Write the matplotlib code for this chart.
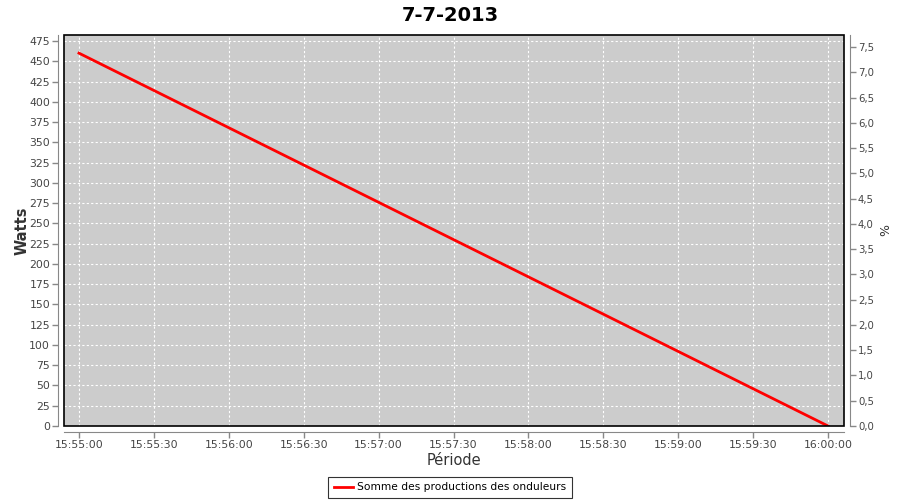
import matplotlib
matplotlib.use("Agg")
import matplotlib.pyplot as plt
import matplotlib.dates as mdates
from matplotlib.patches import Rectangle
from matplotlib.lines import Line2D
from datetime import datetime, timedelta
import numpy as np

# data
times = ["15:55:00", "16:00:00"]
watts = [460, 0]
series_name = "Somme des productions des onduleurs"
title = "7-7-2013"

x = [datetime.strptime("2013-07-07 " + t, "%Y-%m-%d %H:%M:%S") for t in times]

plt.rcParams["font.family"] = ["DejaVu Sans"]
fig = plt.figure(figsize=(9, 5), dpi=100)
ax = fig.add_axes([64 / 900, 74 / 500, 780 / 900, 391 / 500])
ax.set_facecolor("#cccccc")

ax.plot(x, watts, color="red", linewidth=2, zorder=3)

x0 = x[0] - timedelta(seconds=6)
x1 = x[-1] + timedelta(seconds=6.4)
ax.set_xlim(x0, x1)
ax.set_ylim(0, 482.4)
ax.set_yticks(np.arange(0, 476, 25))
ax.xaxis.set_major_locator(mdates.SecondLocator(bysecond=[0, 30]))
ax.xaxis.set_major_formatter(mdates.DateFormatter("%H:%M:%S"))

ax.grid(True, color="white", linestyle=(0, (2, 2)), linewidth=0.8)
ax.set_axisbelow(True)

tick_col = "#444444"
ax.tick_params(axis="both", colors="#888888", labelcolor=tick_col, labelsize=7.8,
               length=4, width=1, direction="out", pad=2)
for s in ["left", "bottom"]:
    ax.spines[s].set_position(("outward", 4))
    ax.spines[s].set_color("#888888")
ax.spines["top"].set_visible(False)
ax.spines["right"].set_visible(False)

ax2 = ax.twinx()
ax2.set_ylim(0, 7.74)
ax2.set_yticks(np.arange(0, 7.51, 0.5))
ax2.set_yticklabels([f"{v:.1f}".replace(".", ",") for v in np.arange(0, 7.51, 0.5)])
ax2.tick_params(axis="y", colors="#888888", labelcolor=tick_col, labelsize=7.3,
                length=4, width=1, direction="out", pad=2)
ax2.spines["right"].set_position(("outward", 4))
ax2.spines["right"].set_color("#888888")
for s in ["left", "bottom", "top"]:
    ax2.spines[s].set_visible(False)
ax2.set_ylabel("%", fontsize=9, color="#333333")

# plot outline
ax.add_patch(Rectangle((0, 0), 1, 1, transform=ax.transAxes, fill=False,
                       edgecolor="black", linewidth=1.2, zorder=5, clip_on=False))

ax.set_ylabel("Watts", fontsize=10.5, color="#333333", fontweight="bold", labelpad=0)
ax.set_xlabel("Période", fontsize=10.5, color="#333333", labelpad=2)
fig.suptitle(title, fontsize=14, fontweight="bold", y=0.988)

handle = Line2D([], [], color="red", linewidth=2)
leg = fig.legend([handle], [series_name], loc="center", bbox_to_anchor=(0.5, 0.025),
                 fontsize=7.7, frameon=True, fancybox=False, handlelength=1.8,
                 borderpad=0.5, handletextpad=0.4)
leg.get_frame().set_edgecolor("black")
leg.get_frame().set_linewidth(0.8)

fig.savefig("out.png", dpi=100)
